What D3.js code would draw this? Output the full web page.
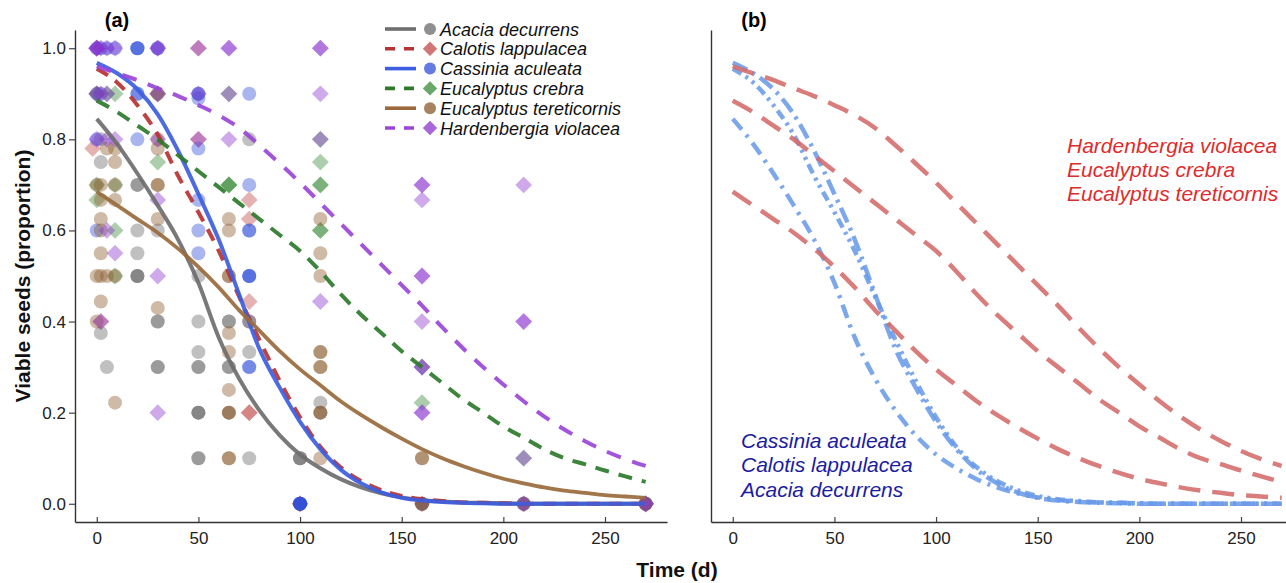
<!DOCTYPE html>
<html>
<head>
<meta charset="utf-8">
<script src="https://cdn.jsdelivr.net/npm/d3@7"></script>
<style>
  body { margin: 0; background: #fff; }
  text { font-family: "Liberation Sans", Arial, sans-serif; }
</style>
</head>
<body>
<div id="chart"></div>
<script>
// species order as in the legend
const species = ['Acacia decurrens', 'Calotis lappulacea', 'Cassinia aculeata',
  'Eucalyptus crebra', 'Eucalyptus tereticornis', 'Hardenbergia violacea']

const xTicks = [0, 50, 100, 150, 200, 250]
const yTicks = [0, 0.2, 0.4, 0.6, 0.8, 1.0]

// fitted curves at these times (d)
const fitTimes = [0, 10, 20, 30, 40, 50, 60, 70, 80, 90, 100, 110, 120, 130, 140,
  150, 160, 170, 180, 190, 200, 210, 220, 230, 240, 250, 260, 270]
const fitAcacia = [0.845, 0.79, 0.725, 0.655, 0.58, 0.485, 0.365, 0.275, 0.205, 0.15, 0.108,
  0.078, 0.054, 0.036, 0.023, 0.014, 0.008, 0.005, 0.003, 0.002, 0.001, 0, 0, 0, 0, 0, 0, 0]
const fitCalotis = [0.955, 0.925, 0.875, 0.81, 0.72, 0.64, 0.555, 0.455, 0.36, 0.27, 0.19,
  0.125, 0.08, 0.05, 0.03, 0.017, 0.01, 0.006, 0.003, 0.002, 0.001, 0, 0, 0, 0, 0, 0, 0]
const fitCassinia = [0.968, 0.945, 0.91, 0.855, 0.775, 0.68, 0.58, 0.46, 0.34, 0.255, 0.18,
  0.12, 0.075, 0.045, 0.025, 0.013, 0.007, 0.004, 0.002, 0.001, 0, 0, 0, 0, 0, 0, 0, 0]
const fitCrebra = [0.885, 0.86, 0.83, 0.8, 0.765, 0.73, 0.695, 0.66, 0.625, 0.59, 0.555,
  0.51, 0.46, 0.415, 0.375, 0.335, 0.3, 0.265, 0.23, 0.2, 0.17, 0.145, 0.12, 0.1, 0.087,
  0.073, 0.06, 0.048]
const fitTereticornis = [0.685, 0.655, 0.625, 0.595, 0.56, 0.52, 0.475, 0.425, 0.38, 0.335,
  0.295, 0.26, 0.225, 0.195, 0.168, 0.143, 0.12, 0.1, 0.083, 0.068, 0.055, 0.045, 0.036,
  0.029, 0.024, 0.019, 0.016, 0.013]
const fitHardenbergia = [0.96, 0.945, 0.93, 0.912, 0.895, 0.875, 0.853, 0.825, 0.787, 0.747,
  0.705, 0.66, 0.615, 0.57, 0.525, 0.48, 0.435, 0.387, 0.342, 0.3, 0.262, 0.225, 0.192,
  0.163, 0.138, 0.116, 0.098, 0.083]

// observations [time, proportion viable]
const obsAcacia = [[2, 0.8], [2, 0.75], [2, 0.375], [5, 0.3], [20, 0.7], [20, 0.7], [20, 0.6],
  [20, 0.55], [20, 0.5], [20, 0.5], [20, 0.5], [30, 0.6], [30, 0.4], [30, 0.4], [30, 0.3],
  [30, 0.3], [50, 0.5], [50, 0.4], [50, 0.333], [50, 0.3], [50, 0.3], [50, 0.2], [50, 0.2],
  [50, 0.2], [50, 0.1], [50, 0.1], [65, 0.4], [65, 0.4], [65, 0.3], [65, 0.3], [65, 0.2],
  [75, 0.8], [75, 0.333], [75, 0.1], [100, 0.1], [100, 0.1], [100, 0.1], [110, 0.222],
  [110, 0.2], [160, 0], [210, 0], [270, 0]]
const obsCalotis = [[0, 1], [0, 0.9], [-2, 0.78], [2, 0.4], [30, 0.9], [50, 1], [50, 0.8],
  [75, 0.667], [75, 0.625], [75, 0.444], [75, 0.2], [75, 0.2], [100, 0], [100, 0],
  [160, 0], [210, 0], [270, 0]]
const obsCassinia = [[0, 1], [2, 1], [5, 1], [9, 1], [0, 0.9], [2, 0.9], [0, 0.8], [0, 0.6],
  [20, 1], [20, 1], [20, 1], [20, 0.9], [20, 0.9], [20, 0.8], [30, 1], [30, 1], [50, 0.9],
  [50, 0.9], [50, 0.89], [50, 0.78], [50, 0.667], [50, 0.6], [50, 0.55], [75, 0.9], [75, 0.7],
  [75, 0.6], [75, 0.6], [75, 0.5], [75, 0.5], [75, 0.5], [75, 0.4], [75, 0.3], [75, 0.3],
  [100, 0], [100, 0], [100, 0], [100, 0], [100, 0], [100, 0], [160, 0], [210, 0], [270, 0]]
const obsCrebra = [[0, 0.9], [5, 0.9], [9, 0.9], [0, 0.7], [9, 0.7], [0, 0.667], [9, 0.6],
  [9, 0.5], [30, 0.75], [30, 0.9], [65, 0.9], [65, 0.7], [65, 0.7], [65, 0.7], [110, 0.8],
  [110, 0.75], [110, 0.7], [110, 0.7], [110, 0.6], [110, 0.6], [160, 0.3], [160, 0.222],
  [210, 0.1], [270, 0]]
const obsTereticornis = [[5, 0.78], [9, 0.78], [9, 0.75], [0, 0.7], [2, 0.7], [9, 0.7],
  [2, 0.667], [9, 0.667], [2, 0.625], [2, 0.6], [2, 0.55], [0, 0.5], [2, 0.5], [5, 0.5],
  [9, 0.5], [2, 0.444], [0, 0.4], [9, 0.222], [30, 0.9], [30, 0.8], [30, 0.78], [30, 0.7],
  [30, 0.7], [30, 0.625], [30, 0.43], [65, 0.625], [65, 0.6], [65, 0.5], [65, 0.5],
  [65, 0.375], [65, 0.333], [65, 0.25], [65, 0.2], [65, 0.2], [65, 0.1], [65, 0.1], [75, 0.4],
  [110, 0.625], [110, 0.55], [110, 0.5], [110, 0.333], [110, 0.333], [110, 0.3], [110, 0.3],
  [110, 0.2], [110, 0.2], [110, 0.1], [160, 0.1], [160, 0.1], [160, 0], [160, 0], [210, 0],
  [270, 0], [270, 0]]
const obsHardenbergia = [[0, 1], [0, 1], [0, 1], [2, 1], [5, 1], [9, 1], [0, 0.9], [2, 0.9],
  [5, 0.9], [0, 0.8], [5, 0.8], [9, 0.8], [5, 0.6], [9, 0.55], [2, 0.4], [30, 1], [30, 1],
  [30, 0.9], [30, 0.8], [30, 0.667], [30, 0.5], [30, 0.2], [50, 1], [50, 0.9], [50, 0.8],
  [65, 1], [65, 1], [65, 0.9], [65, 0.8], [110, 1], [110, 1], [110, 0.9], [110, 0.8],
  [110, 0.444], [160, 0.7], [160, 0.7], [160, 0.667], [160, 0.5], [160, 0.5], [160, 0.4],
  [160, 0.3], [160, 0.3], [160, 0.2], [160, 0.2], [210, 0.7], [210, 0.4], [210, 0.4],
  [210, 0.1], [210, 0], [270, 0], [270, 0]]

const fits = [fitAcacia, fitCalotis, fitCassinia, fitCrebra, fitTereticornis, fitHardenbergia]
const observations = [obsAcacia, obsCalotis, obsCassinia, obsCrebra, obsTereticornis, obsHardenbergia]

// panel (b) groups
const fastGroup = ['Cassinia aculeata', 'Calotis lappulacea', 'Acacia decurrens']
const slowGroup = ['Hardenbergia violacea', 'Eucalyptus crebra', 'Eucalyptus tereticornis']

// styles, one per species
const styles = [
  { line: '#6e6e6e', point: '#6a6a6a', dash: null, shape: 'circle', width: 4 },
  { line: '#b83232', point: '#c24848', dash: '13,9', shape: 'diamond', width: 4 },
  { line: '#3d5ee0', point: '#2f4fd8', dash: null, shape: 'circle', width: 4 },
  { line: '#2d7a2d', point: '#3a8a3a', dash: '14,10', shape: 'diamond', width: 4 },
  { line: '#9a6a3c', point: '#8a5a2a', dash: null, shape: 'circle', width: 3.8 },
  { line: '#9a45d8', point: '#8a35d0', dash: '15,12', shape: 'diamond', width: 4 }
]
const rightDash = {
  'Acacia decurrens': '14,7,3,7',
  'Calotis lappulacea': '10,5,3,5,3,5',
  'Cassinia aculeata': '16,6,3,6'
}

const W = 1286, H = 583
const svg = d3.select('#chart').append('svg')
  .attr('width', W).attr('height', H)
  .attr('viewBox', `0 0 ${W} ${H}`)

const yScale = d3.scaleLinear().domain([-0.04, 1.04]).range([522, 30])
const xLeft = d3.scaleLinear().domain([-10.7, 280.5]).range([75, 667])
const xRight = d3.scaleLinear().domain([-10.7, 280.5]).range([711, 1303])

function marker(sel, shape, r) {
  if (shape === 'circle') {
    return sel.append('circle').attr('r', r)
  }
  const d = r * 1.2
  return sel.append('path').attr('d', `M0,${-d}L${d},0L0,${d}L${-d},0Z`)
}

function styleAxis(g) {
  g.selectAll('.domain').attr('stroke', '#333').attr('stroke-width', 1.4)
  g.selectAll('.tick line').attr('stroke', '#444').attr('stroke-width', 1.2)
  g.selectAll('.tick text').attr('fill', '#222').style('font-size', '17px')
    .style('font-family', '"Liberation Sans", Arial, sans-serif')
}

// ---------- panel (a) ----------
const gA = svg.append('g')

gA.append('g')
  .attr('transform', 'translate(75,0)')
  .call(d3.axisLeft(yScale).tickValues(yTicks).tickFormat(d3.format('.1f'))
    .tickSize(6).tickSizeOuter(0).tickPadding(3))
  .call(styleAxis)

gA.append('g')
  .attr('transform', 'translate(0,522)')
  .call(d3.axisBottom(xLeft).tickValues(xTicks).tickSize(-5).tickSizeOuter(0).tickPadding(10))
  .call(styleAxis)

// points
species.forEach((name, i) => {
  const st = styles[i]
  const pts = gA.append('g')
  observations[i].forEach(([t, v]) => {
    const g = pts.append('g').attr('transform', `translate(${xLeft(t)},${yScale(v)})`)
    marker(g, st.shape, 7).attr('fill', st.point).attr('fill-opacity', 0.42)
  })
})

// fitted curves
const lineA = d3.line()
  .x(d => xLeft(d[0]))
  .y(d => yScale(d[1]))
  .curve(d3.curveMonotoneX)

species.forEach((name, i) => {
  const st = styles[i]
  gA.append('path')
    .datum(fitTimes.map((t, k) => [t, fits[i][k]]))
    .attr('d', lineA)
    .attr('fill', 'none')
    .attr('stroke', st.line)
    .attr('stroke-width', st.width)
    .attr('stroke-opacity', 0.92)
    .attr('stroke-dasharray', st.dash)
})

// legend
const legend = gA.append('g')
species.forEach((name, i) => {
  const st = styles[i]
  const cy = 29 + i * 19.8
  const row = legend.append('g').attr('transform', `translate(0,${cy})`)
  row.append('line')
    .attr('x1', 385).attr('x2', 416).attr('y1', 0).attr('y2', 0)
    .attr('stroke', st.line).attr('stroke-width', 3.6)
    .attr('stroke-dasharray', st.dash ? '10,9' : null)
  const m = row.append('g').attr('transform', 'translate(430,0)')
  marker(m, st.shape, 6).attr('fill', st.point).attr('fill-opacity', 0.75)
  row.append('text')
    .attr('x', 440).attr('y', 6.5)
    .style('font-size', '18px').style('font-style', 'italic')
    .attr('fill', '#111')
    .text(name)
})

gA.append('text')
  .attr('x', 117).attr('y', 27)
  .attr('text-anchor', 'middle')
  .style('font-size', '20px').style('font-weight', 'bold')
  .text('(a)')

// ---------- panel (b) ----------
const gB = svg.append('g')

gB.append('g')
  .attr('transform', 'translate(711,0)')
  .call(d3.axisLeft(yScale).tickValues([]).tickSizeOuter(0))
  .call(styleAxis)

gB.append('g')
  .attr('transform', 'translate(0,522)')
  .call(d3.axisBottom(xRight).tickValues(xTicks).tickSize(-5).tickSizeOuter(0).tickPadding(10))
  .call(styleAxis)

const lineB = d3.line()
  .x(d => xRight(d[0]))
  .y(d => yScale(d[1]))
  .curve(d3.curveMonotoneX)

species.forEach((name, i) => {
  const slow = slowGroup.includes(name)
  gB.append('path')
    .datum(fitTimes.map((t, k) => [t, fits[i][k]]))
    .attr('d', lineB)
    .attr('fill', 'none')
    .attr('stroke', slow ? '#d46a6a' : '#6a9be8')
    .attr('stroke-opacity', 0.88)
    .attr('stroke-width', 4.5)
    .attr('stroke-dasharray', slow ? '22,12' : rightDash[name])
})

slowGroup.forEach((name, i) => {
  gB.append('text')
    .attr('x', 1067).attr('y', 153 + i * 24)
    .style('font-size', '21px').style('font-style', 'italic')
    .attr('fill', '#dd2c2c')
    .text(name)
})

fastGroup.forEach((name, i) => {
  gB.append('text')
    .attr('x', 741).attr('y', 448 + i * 24.3)
    .style('font-size', '21px').style('font-style', 'italic')
    .attr('fill', '#1c1ca0')
    .text(name)
})

gB.append('text')
  .attr('x', 754).attr('y', 27)
  .attr('text-anchor', 'middle')
  .style('font-size', '20px').style('font-weight', 'bold')
  .text('(b)')

// ---------- shared axis titles ----------
svg.append('text')
  .attr('transform', 'translate(30,276) rotate(-90)')
  .attr('text-anchor', 'middle')
  .style('font-size', '21px').style('font-weight', 'bold')
  .attr('fill', '#111')
  .text('Viable seeds (proportion)')

svg.append('text')
  .attr('x', 677).attr('y', 577)
  .attr('text-anchor', 'middle')
  .style('font-size', '21px').style('font-weight', 'bold')
  .attr('fill', '#111')
  .text('Time (d)')
</script>
</body>
</html>
